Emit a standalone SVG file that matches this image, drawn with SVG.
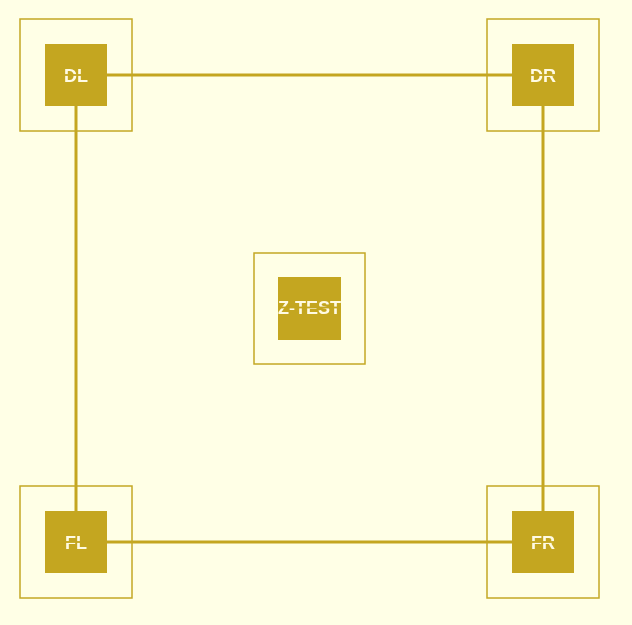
<svg xmlns="http://www.w3.org/2000/svg" width="632" height="625" viewBox="0 0 632 625">
<style>
.bg{fill:#ffffe6}
.outer{fill:none;stroke:#c4a824;stroke-width:1.5}
.inner{fill:#c4a620}
.edge{stroke:#c4a620;stroke-width:3;fill:none}
.lbl{font-family:"Liberation Sans",Arial,sans-serif;font-weight:bold;font-size:18px;fill:#fffbe4;text-anchor:middle}
</style>
<defs>
<mask id="gap" maskUnits="userSpaceOnUse" x="-60" y="-60" width="120" height="120">
<rect x="-60" y="-60" width="120" height="120" fill="#fff"/>
<rect x="-60" y="-0.9" width="120" height="1.8" fill="#000"/>
</mask>
</defs>
<rect class="bg" x="0" y="0" width="632" height="625"/>
<g id="connectors">
<line class="edge" x1="76" y1="75" x2="543" y2="75"/>
<line class="edge" x1="76" y1="75" x2="76" y2="542"/>
<line class="edge" x1="543" y1="75" x2="543" y2="542"/>
<line class="edge" x1="76" y1="542" x2="543" y2="542"/>
</g>
<g id="node-BL" transform="translate(76,75)">
<rect class="outer" x="-56" y="-56" width="112" height="112"/>
<rect class="inner" x="-31" y="-31" width="62" height="62"/>
<text class="lbl" x="0" y="6.5" mask="url(#gap)">DL</text>
</g>
<g id="node-BR" transform="translate(543,75)">
<rect class="outer" x="-56" y="-56" width="112" height="112"/>
<rect class="inner" x="-31" y="-31" width="62" height="62"/>
<text class="lbl" x="0" y="6.5" mask="url(#gap)">DR</text>
</g>
<g id="node-FL" transform="translate(76,542)">
<rect class="outer" x="-56" y="-56" width="112" height="112"/>
<rect class="inner" x="-31" y="-31" width="62" height="62"/>
<text class="lbl" x="0" y="6.5" mask="url(#gap)">FL</text>
</g>
<g id="node-FR" transform="translate(543,542)">
<rect class="outer" x="-56" y="-56" width="112" height="112"/>
<rect class="inner" x="-31" y="-31" width="62" height="62"/>
<text class="lbl" x="0" y="6.5" mask="url(#gap)">FR</text>
</g>
<g id="node-Z" transform="translate(309.5,308.5)">
<rect class="outer" x="-55.5" y="-55.5" width="111" height="111"/>
<rect class="inner" x="-31.5" y="-31.5" width="63" height="63"/>
<g transform="translate(0,-1)">
<text class="lbl" x="0" y="6.5" mask="url(#gap)">Z-TEST</text>
</g>
</g>
</svg>
